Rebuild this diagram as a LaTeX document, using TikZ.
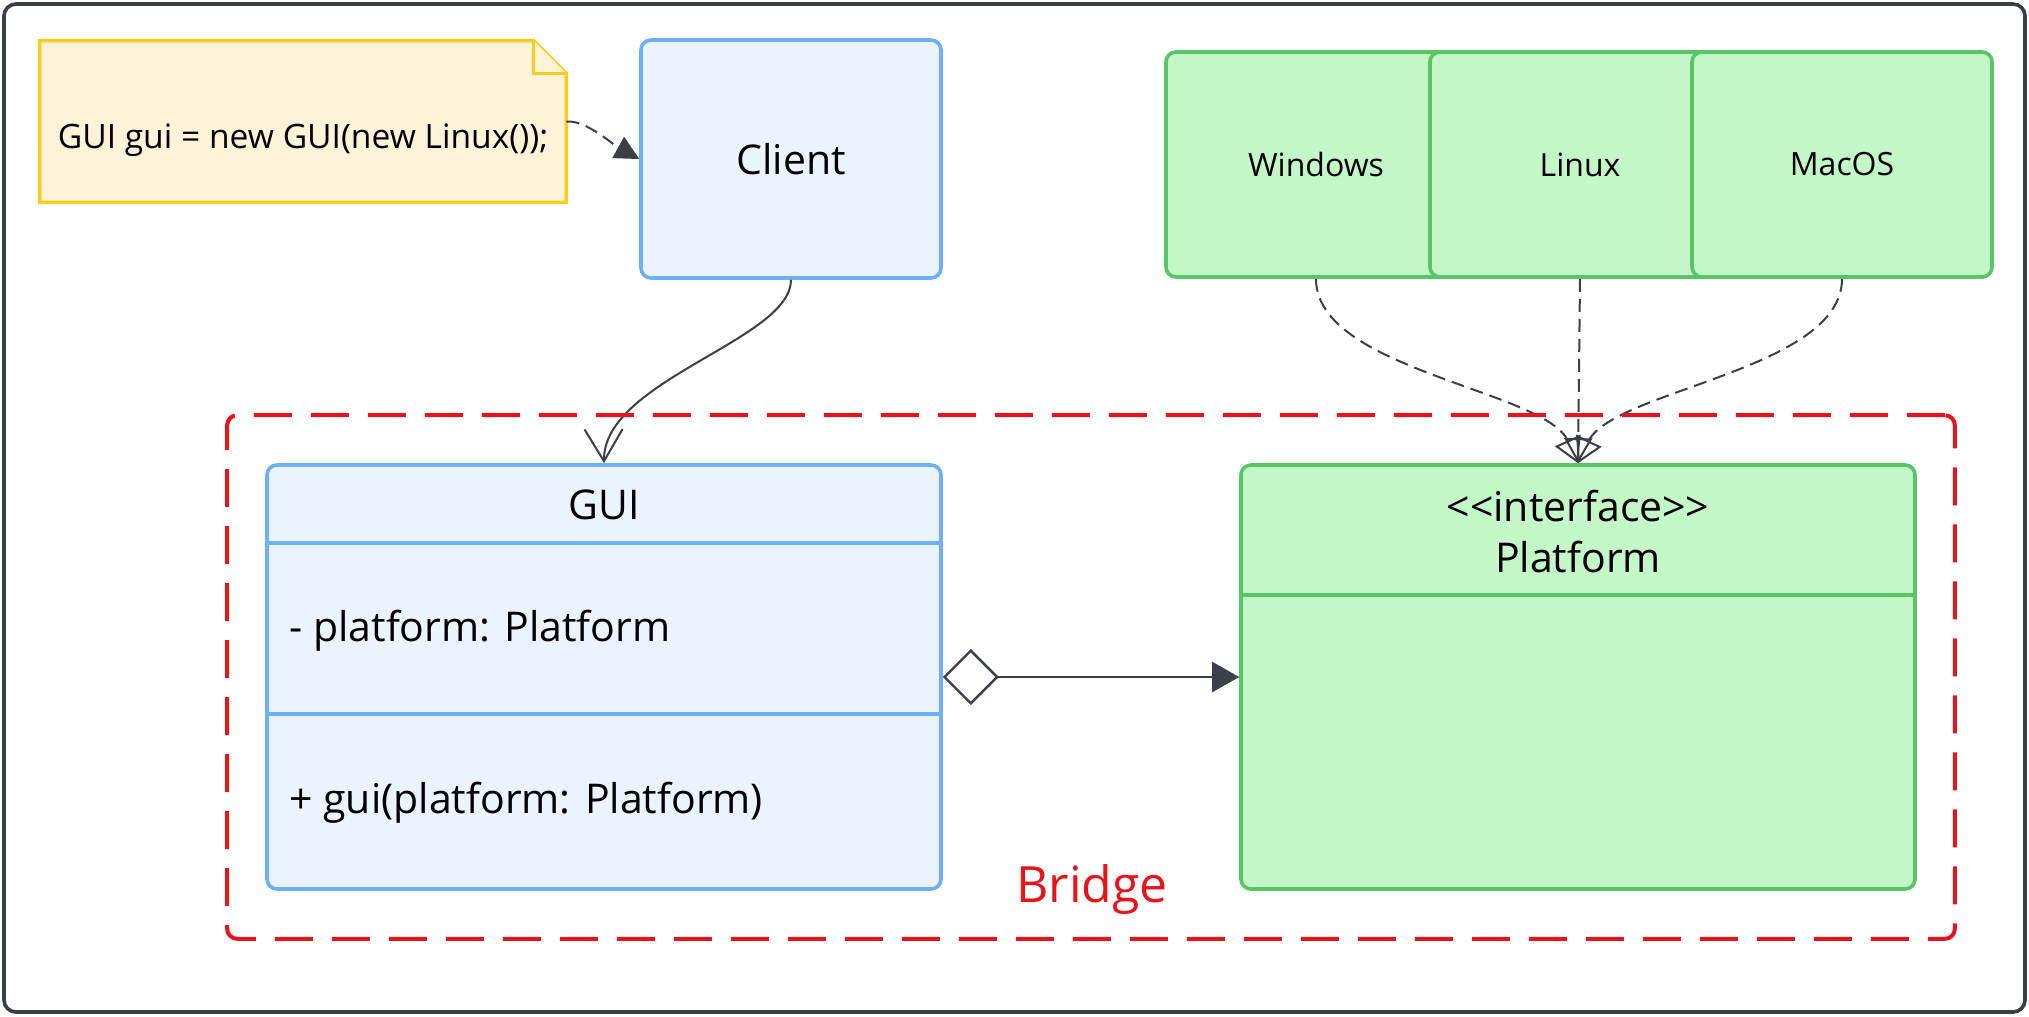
\documentclass[tikz,border=0pt]{standalone}
\usepackage{fontspec}
\setmainfont{Open Sans}
\usepackage{tikz}
\usetikzlibrary{arrows.meta,positioning,fit}
\definecolor{framegray}{HTML}{3A3F47}
\definecolor{notefill}{HTML}{FEF2D8}
\definecolor{noteline}{HTML}{FACD1D}
\definecolor{bluefill}{HTML}{EBF4FE}
\definecolor{blueline}{HTML}{6DB0F8}
\definecolor{greenfill}{HTML}{C3F7C8}
\definecolor{greenline}{HTML}{58C566}
\definecolor{bridgered}{HTML}{E8141B}
\definecolor{arrowgray}{HTML}{3A3F48}

\begin{document}
\begin{tikzpicture}
[x=0.5bp,y=-0.5bp,
 every node/.style={font=\fontsize{20.5bp}{25.5bp}\selectfont,inner sep=0pt},
 bluebox/.style={rectangle,rounded corners=5bp,draw=blueline,fill=bluefill,line width=1.8bp},
 greenbox/.style={rectangle,rounded corners=5bp,draw=greenline,fill=greenfill,line width=1.8bp},
 osbox/.style={greenbox,minimum width=150bp,minimum height=112.5bp,font=\fontsize{16bp}{20bp}\selectfont},
 notebox/.style={rectangle,minimum width=263bp,minimum height=80.5bp},
 noteshape/.style={draw=noteline,fill=notefill,line width=1.8bp},
 sepline/.style={line width=1.8bp},
 noteedge/.style={draw=arrowgray,line width=1bp,dash pattern=on 6.5bp off 3.5bp,-{Triangle[length=12bp,width=12bp]}},
 assoc/.style={draw=arrowgray,line width=1bp,-{Straight Barb[length=16bp,width=19bp]}},
 realize/.style={draw=arrowgray,line width=1bp,dash pattern=on 6.5bp off 3.5bp,-{Triangle[open,length=12.5bp,width=14bp]}},
 aggr/.style={draw=arrowgray,line width=1.2bp,{Diamond[open,length=28bp,width=28bp]}-{Triangle[length=13.5bp,width=15bp]}},
 bridge/.style={draw=bridgered,line width=2bp,dash pattern=on 19bp off 9.5bp,rounded corners=5bp,inner xsep=19bp,inner ysep=24bp}]
\useasboundingbox (0,0) rectangle (2029,1016);
\draw [framegray,line width=1.8bp,rounded corners=6bp] (4,4) rectangle (2025,1012);

\node[notebox] (note) at (303,121.5) {};
\draw [noteshape] (note.north west) -- ([xshift=-16.5bp]note.north east) -- ([yshift=-16.5bp]note.north east) -- (note.south east) -- (note.south west) -- cycle;
\draw [noteshape] ([xshift=-16.5bp]note.north east) |- ([yshift=-16.5bp]note.north east);
\node[font=\fontsize{16.8bp}{19bp}\selectfont] (code) at (303,140) {GUI gui = new GUI(new Linux());};

\node[bluebox,minimum width=150bp,minimum height=119bp] (client) at (791,159) {Client};

\node[osbox] (windows) at (1316,164.5) {Windows};
\node[osbox] (linux) at (1580,164.5) {Linux};
\node[osbox] (macos) at (1842,164.5) {MacOS};

\node[bluebox,minimum width=337bp,minimum height=212bp] (gui) at (604,677) {};
\draw [sepline,blueline] ([yshift=-40bp]gui.north west) -- ([yshift=-40bp]gui.north east);
\draw [sepline,blueline] ([yshift=-125.5bp]gui.north west) -- ([yshift=-125.5bp]gui.north east);
\node (guiname) at (604,505) {GUI};
\node[anchor=west] (guiattr) at (289,631) {- platform: Platform};
\node[anchor=west] (guiop) at (289,803) {+ gui(platform: Platform)};

\node[greenbox,minimum width=337bp,minimum height=212bp] (platform) at (1578,677) {};
\draw [sepline,greenline] ([yshift=-66bp]platform.north west) -- ([yshift=-66bp]platform.north east);
\node[align=center] (platformname) at (1578,531) {{<}{<}interface{>}{>}\\Platform};

\draw [noteedge] (note.east) .. controls (586,120) and (612,144) .. (client.west);
\draw [assoc] (client.south) .. controls (791,340) and (603,380) .. (gui.north);
\draw [realize] (windows.south) .. controls (1316,370) and (1545,390) .. (platform.north);
\draw [realize] (linux.south) -- (platform.north);
\draw [realize] (macos.south) .. controls (1842,370) and (1613,390) .. (platform.north);
\draw [aggr] (gui.east) -- (platform.west);

\node[bridge,fit=(gui)(platform)] (bridgebox) {};
\node[anchor=base,text=bridgered,font=\fontsize{25bp}{30bp}\selectfont] (bridgetext) at (1092,902) {Bridge};
\end{tikzpicture}
\end{document}
